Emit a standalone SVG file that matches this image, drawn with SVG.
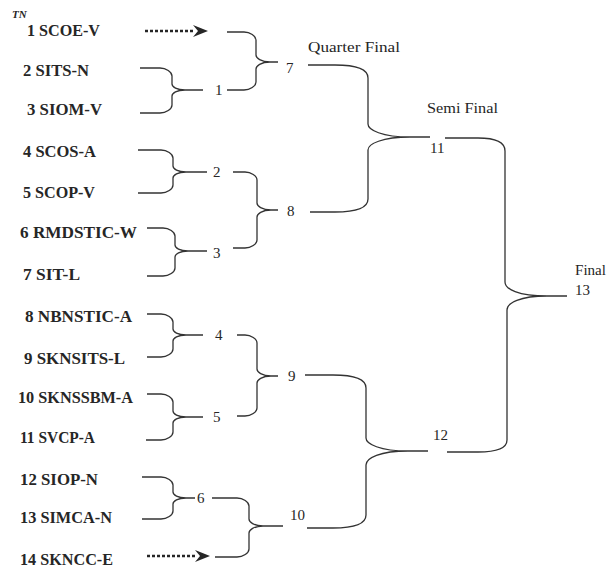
<svg xmlns="http://www.w3.org/2000/svg" width="608" height="569" viewBox="0 0 608 569">
<defs>
<style>
.team{font-family:"Liberation Serif",serif;font-weight:bold;font-size:16px;fill:#262626}
.num{font-family:"Liberation Serif",serif;font-size:15px;fill:#262626}
.lbl{font-family:"Liberation Serif",serif;font-size:15px;fill:#262626}
.br{fill:none;stroke:#333;stroke-width:1.3}
.dot{fill:none;stroke:#262626;stroke-width:2.6;stroke-dasharray:3 2}
.ah{fill:#262626}
</style>
</defs>
<rect width="608" height="569" fill="#fff"/>
<text x="12" y="18" font-family="Liberation Serif,serif" font-style="italic" font-weight="bold" font-size="11" fill="#262626">TN</text>
<g id="teams">
<text id="t1" class="team" x="27" y="36" textLength="73" lengthAdjust="spacingAndGlyphs">1 SCOE-V</text>
<text id="t2" class="team" x="23" y="76" textLength="66" lengthAdjust="spacingAndGlyphs">2 SITS-N</text>
<text id="t3" class="team" x="27" y="115" textLength="75" lengthAdjust="spacingAndGlyphs">3 SIOM-V</text>
<text id="t4" class="team" x="23" y="157" textLength="73" lengthAdjust="spacingAndGlyphs">4 SCOS-A</text>
<text id="t5" class="team" x="23" y="198" textLength="72" lengthAdjust="spacingAndGlyphs">5 SCOP-V</text>
<text id="t6" class="team" x="20" y="238" textLength="117" lengthAdjust="spacingAndGlyphs">6 RMDSTIC-W</text>
<text id="t7" class="team" x="23" y="280" textLength="57" lengthAdjust="spacingAndGlyphs">7 SIT-L</text>
<text id="t8" class="team" x="25" y="322" textLength="107" lengthAdjust="spacingAndGlyphs">8 NBNSTIC-A</text>
<text id="t9" class="team" x="24" y="364" textLength="101" lengthAdjust="spacingAndGlyphs">9 SKNSITS-L</text>
<text id="t10" class="team" x="18" y="403" textLength="115" lengthAdjust="spacingAndGlyphs">10 SKNSSBM-A</text>
<text id="t11" class="team" x="20" y="443" textLength="75" lengthAdjust="spacingAndGlyphs">11 SVCP-A</text>
<text id="t12" class="team" x="20" y="485" textLength="78" lengthAdjust="spacingAndGlyphs">12 SIOP-N</text>
<text id="t13" class="team" x="20" y="523" textLength="92" lengthAdjust="spacingAndGlyphs">13 SIMCA-N</text>
<text id="t14" class="team" x="20" y="565" textLength="93" lengthAdjust="spacingAndGlyphs">14 SKNCC-E</text>
</g>
<g id="games">
<text id="g1" class="num" x="215" y="95">1</text>
<text id="g2" class="num" x="213" y="177">2</text>
<text id="g3" class="num" x="213" y="258">3</text>
<text id="g4" class="num" x="215" y="340">4</text>
<text id="g5" class="num" x="213" y="422">5</text>
<text id="g6" class="num" x="197" y="503">6</text>
<text id="g7" class="num" x="286" y="73">7</text>
<text id="g8" class="num" x="287" y="216">8</text>
<text id="g9" class="num" x="288" y="381">9</text>
<text id="g10" class="num" x="290" y="520">10</text>
<text id="g11" class="num" x="430" y="153">11</text>
<text id="g12" class="num" x="433" y="440">12</text>
<text id="g13" class="num" x="575" y="295">13</text>
</g>
<g id="round-labels">
<text class="lbl" x="308" y="52" textLength="92" lengthAdjust="spacingAndGlyphs">Quarter Final</text>
<text class="lbl" x="427" y="113" textLength="71" lengthAdjust="spacingAndGlyphs">Semi Final</text>
<text class="lbl" x="575" y="275" textLength="31" lengthAdjust="spacingAndGlyphs">Final</text>
</g>
<g id="connectors">
<path class="dot" d="M145,31 H195"/>
<polygon class="ah" points="193,25 208,31 193,37 198,31"/>
<path class="dot" d="M147,556 H197"/>
<polygon class="ah" points="195,550 210,556 195,562 200,556"/>
<path class="br" d="M140,68 H160 C166,68 172,72 172,76 V84 C172,87 177,90 185,90 H203 M140,113 H160 C166,113 172,109 172,105 V96 C172,93 177,90 185,90"/>
<path class="br" d="M138,150 H161 C167,150 173,154 173,158 V166 C173,169 178,172 186,172 H207 M138,193 H161 C167,193 173,189 173,185 V178 C173,175 178,172 186,172"/>
<path class="br" d="M147,228 H163 C169,228 175,232 175,236 V245 C175,248 180,251 188,251 H207 M147,276 H163 C169,276 175,272 175,268 V257 C175,254 180,251 188,251"/>
<path class="br" d="M147,314 H161 C167,314 173,318 173,322 V329 C173,332 178,335 186,335 H203 M147,357 H161 C167,357 173,353 173,349 V341 C173,338 178,335 186,335"/>
<path class="br" d="M147,394 H161 C167,394 173,398 173,402 V411 C173,414 178,417 186,417 H203 M146,440 H161 C167,440 173,436 173,432 V423 C173,420 178,417 186,417"/>
<path class="br" d="M142,477 H161 C167,477 173,481 173,485 V492 C173,495 178,498 186,498 H195 M142,519 H161 C167,519 173,515 173,511 V504 C173,501 178,498 186,498"/>
<path class="br" d="M227,32 H244 C250,32 256,36 256,40 V55 C256,58 261,62 270,62 H278 M227,90 H244 C250,90 256,86 256,82 V69 C256,66 261,62 270,62"/>
<path class="br" d="M233,172 H245 C251,172 257,176 257,180 V203 C257,206 262,210 271,210 H278 M233,248 H245 C251,248 257,244 257,240 V217 C257,214 262,210 271,210"/>
<path class="br" d="M237,335 H245 C251,335 257,339 257,343 V369 C257,372 262,376 271,376 H278 M237,416 H245 C251,416 257,412 257,408 V383 C257,380 262,376 271,376"/>
<path class="br" d="M212,498 H237 C243,498 249,502 249,506 V519 C249,522 254,526 263,526 H283 M215,557 H237 C243,557 249,553 249,549 V533 C249,530 254,526 263,526"/>
<path class="br" d="M308,65 H335 C355,65 368,69 368,78 V124 C368,130 382,137 410,137 H430 M310,212 H335 C355,212 368,208 368,199 V150 C368,144 382,137 410,137"/>
<path class="br" d="M305,375 H333 C353,375 366,379 366,388 V438 C366,444 380,451 408,451 H428 M307,528 H333 C353,528 366,524 366,515 V465 C366,458 380,451 408,451"/>
<path class="br" d="M445,138 H478 C494,138 505,142 505,151 V282 C505,289 518,296 547,296 H567 M447,452 H478 C494,452 507,449 507,440 V310 C507,303 520,296 547,296"/>
</g>
</svg>
